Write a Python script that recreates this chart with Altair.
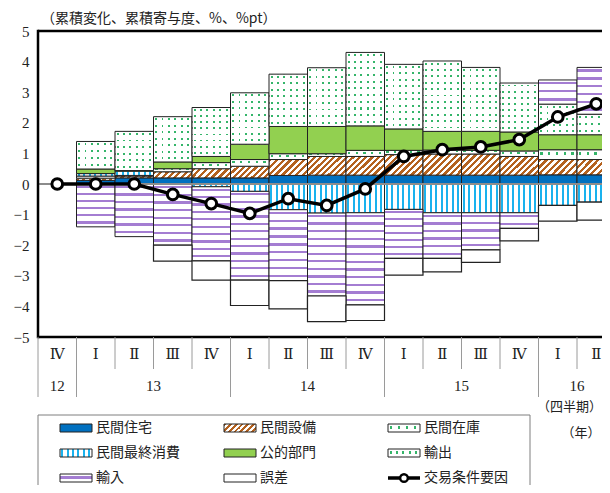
import altair as alt
import pandas as pd

# ---------------- data ----------------
periods = ["12-Ⅳ", "13-Ⅰ", "13-Ⅱ", "13-Ⅲ", "13-Ⅳ", "14-Ⅰ", "14-Ⅱ", "14-Ⅲ", "14-Ⅳ",
           "15-Ⅰ", "15-Ⅱ", "15-Ⅲ", "15-Ⅳ", "16-Ⅰ", "16-Ⅱ"]
quarters = ["Ⅳ", "Ⅰ", "Ⅱ", "Ⅲ", "Ⅳ", "Ⅰ", "Ⅱ", "Ⅲ", "Ⅳ", "Ⅰ", "Ⅱ", "Ⅲ", "Ⅳ", "Ⅰ", "Ⅱ"]
years = ["12", "13", "13", "13", "13", "14", "14", "14", "14", "15", "15", "15", "15", "16", "16"]

series_names = ["民間住宅", "民間設備", "民間在庫", "民間最終消費", "公的部門", "輸出", "輸入", "誤差"]
housing     = [0, 0.12, 0.20, 0.20, 0.20, 0.20, 0.28, 0.29, 0.29, 0.29, 0.29, 0.29, 0.29, 0.30, 0.30]
equipment   = [0, 0.07, 0.06, 0.20, 0.30, 0.38, 0.52, 0.61, 0.61, 0.67, 0.69, 0.69, 0.61, 0.50, 0.50]
inventory   = [0, 0.07, 0.02, 0.10, 0.20, 0.22, 0.19, 0.09, 0.20, 0.14, 0.13, 0.12, 0.18, 0.32, 0.32]
consumption = [0, 0.08, 0.14, 0.00, -0.09, -0.24, -0.84, -0.95, -0.94, -0.83, -0.94, -0.94, -0.94, -0.70, -0.59]
public      = [0, 0.15, 0.02, 0.22, 0.20, 0.50, 0.89, 0.89, 0.80, 0.70, 0.61, 0.62, 0.62, 0.49, 0.49]
exports     = [0, 0.90, 1.28, 1.48, 1.60, 1.68, 1.71, 1.92, 2.40, 2.11, 2.30, 2.09, 1.60, 1.00, 0.67]
imports     = [0, -1.40, -1.72, -2.00, -2.42, -2.90, -2.32, -2.71, -3.01, -1.60, -1.49, -1.21, -0.51, 0.79, 1.53]
errors      = [0, 0.00, 0.00, -0.52, -0.63, -0.83, -0.92, -0.84, -0.51, -0.55, -0.44, -0.41, -0.41, -0.51, -0.59]
terms_name = "交易条件要因"
terms       = [0, 0.00, 0.00, -0.34, -0.64, -0.96, -0.48, -0.70, -0.16, 0.90, 1.12, 1.21, 1.45, 2.19, 2.62]

title_text = "（累積変化、累積寄与度、%、%pt）"
unit_q = "（四半期）"
unit_y = "（年）"

series_values = [housing, equipment, inventory, consumption, public, exports, imports, errors]

rows = []
for order, (name, vals) in enumerate(zip(series_names, series_values)):
    for i, v in enumerate(vals):
        rows.append({"series": name, "order": order, "idx": i, "period": periods[i], "value": v})
bars_df = pd.DataFrame(rows)
line_df = pd.DataFrame({"idx": list(range(len(periods))), "period": periods, "value": terms})
axis_df = pd.DataFrame({"idx": list(range(len(periods))), "quarter": quarters, "year": years})

# ---------------- layout / styles ----------------
CW = 38.5                 # px per quarter
W, H = 564, 306           # plot area (right side cut like the original)
PX = H / 10.0             # px per 1 %pt
JP = "Noto Sans CJK JP"
SERIF = "Liberation Serif, DejaVu Serif, Noto Sans CJK JP"
TXT = "#222222"
EDGE = "#222222"
CLEAR = "rgba(255,255,255,0)"


def band_grad(n, color, bg, frac, x2, y2, shift=0.25):
    stops = [{"offset": 0, "color": bg}]
    for k in range(n):
        a = (k + shift) / n
        b = a + frac / n
        stops += [{"offset": a, "color": bg}, {"offset": a, "color": color},
                  {"offset": b, "color": color}, {"offset": b, "color": bg}]
    stops.append({"offset": 1, "color": bg})
    return {"gradient": "linear", "x1": 0, "y1": 0, "x2": x2, "y2": y2, "stops": stops}


def hatch(w, h, color="#b4621f", period=6.7):
    h = max(h, 1.0)
    k = (w + h) / (w * w + h * h)
    n = max(1, round((w + h) / period))
    return band_grad(n, color, "#ffffff", 0.5, k * w, k * h, shift=0.0)


def rows_grad(n, color, bg, frac):
    return band_grad(n, color, bg, frac, 0, 1)


def cols_grad(n, color, bg, frac):
    return band_grad(n, color, bg, frac, 1, 0)


HEXPR = f"abs(datum.y1 - datum.y0) * {PX}"


def cond_rows(period, color, bg, frac, nmax):
    key = f"max(1, round({HEXPR} / {period}))"
    conds = [{"test": f"{key} == {n}", "value": rows_grad(n, color, bg, frac)} for n in range(1, nmax)]
    return {"condition": conds, "value": rows_grad(nmax, color, bg, frac)}


def cond_hatch(hmax=26):
    key = f"max(1, round({HEXPR}))"
    conds = [{"test": f"{key} == {h}", "value": hatch(CW, h)} for h in range(1, hmax)]
    return {"condition": conds, "value": hatch(CW, hmax)}


PURPLE = "#a47dd2"
GREEN_DOT = "#35b56a"
BLUE_STRIPE = "#1ab2ee"

xscale = alt.Scale(domain=[-0.5, -0.5 + W / CW], nice=False, zero=False)
yscale = alt.Scale(domain=[-5, 5], nice=False, zero=False)
yaxis = alt.Axis(values=list(range(-5, 6)), ticks=False, domain=False, grid=False,
                 labelFont=SERIF, labelFontSize=15, labelColor=TXT, labelPadding=9,
                 labelFlush=False, labelOverlap=False, title=None)

base = (alt.Chart(bars_df)
        .transform_filter("datum.value != 0")
        .transform_stack(stack="value", groupby=["idx"], sort=[alt.SortField("order", "ascending")],
                         as_=["y0", "y1"])
        .transform_calculate(x0="datum.idx - 0.5", x1="datum.idx + 0.5"))

enc = dict(x=alt.X("x0:Q", scale=xscale, axis=None), x2="x1:Q",
           y=alt.Y("y0:Q", scale=yscale, axis=yaxis), y2="y1:Q")


def seg(name):
    return base.transform_filter(alt.datum.series == name)


layers = []
layers.append(seg("民間住宅").mark_rect(clip=True, fill="#0070c0", stroke=EDGE, strokeWidth=1).encode(**enc))
layers.append(seg("民間設備").mark_rect(clip=True, stroke=EDGE, strokeWidth=1).encode(
    fill=cond_hatch(), **enc))
layers.append(seg("民間在庫").mark_rect(clip=True, fill=cols_grad(5, GREEN_DOT, "#ffffff", 0.3)).encode(**enc))
layers.append(seg("民間在庫").mark_rect(clip=True, stroke=EDGE, strokeWidth=1).encode(
    fill=cond_rows(7.0, CLEAR, "#ffffff", 0.3, 12), **enc))
layers.append(seg("民間最終消費").mark_rect(clip=True, fill=cols_grad(7, BLUE_STRIPE, "#ffffff", 0.35),
                                        stroke=EDGE, strokeWidth=1).encode(**enc))
layers.append(seg("公的部門").mark_rect(clip=True, fill="#92d050", stroke=EDGE, strokeWidth=1).encode(**enc))
layers.append(seg("輸出").mark_rect(clip=True, fill=cols_grad(6, GREEN_DOT, "#ffffff", 0.3)).encode(**enc))
layers.append(seg("輸出").mark_rect(clip=True, stroke=EDGE, strokeWidth=1).encode(
    fill=cond_rows(6.5, CLEAR, "#ffffff", 0.3, 14), **enc))
layers.append(seg("輸入").mark_rect(clip=True, stroke=EDGE, strokeWidth=1).encode(
    fill=cond_rows(7.5, PURPLE, "#ffffff", 0.3, 14), **enc))
layers.append(seg("誤差").mark_rect(clip=True, fill="#ffffff", stroke=EDGE, strokeWidth=1.2).encode(**enc))

zero_line = alt.Chart(pd.DataFrame({"z": [0]})).mark_rule(color="#8c8c8c", strokeWidth=2).encode(
    y=alt.Y("z:Q", scale=yscale, axis=yaxis))

line = alt.Chart(line_df).mark_line(color="black", strokeWidth=3.5).encode(
    x=alt.X("idx:Q", scale=xscale, axis=None), y=alt.Y("value:Q", scale=yscale, axis=yaxis))
pts = alt.Chart(line_df).mark_point(shape="circle", filled=True, fill="white", stroke="black",
                                    strokeWidth=3, size=115, opacity=1).encode(
    x=alt.X("idx:Q", scale=xscale, axis=None), y=alt.Y("value:Q", scale=yscale, axis=yaxis))

one = pd.DataFrame({"a": [0]})
frame = [
    alt.Chart(one).mark_rule(color="black", strokeWidth=2.5).encode(
        x=alt.value(0), x2=alt.value(W), y=alt.value(0)),
    alt.Chart(one).mark_rule(color="black", strokeWidth=2.5).encode(
        x=alt.value(0), x2=alt.value(W), y=alt.value(H)),
    alt.Chart(one).mark_rule(color="black", strokeWidth=2.5).encode(
        x=alt.value(0), y=alt.value(-1.2), y2=alt.value(H + 1.2)),
]

# ---------------- category axis (drawn below the plot) ----------------
axis_base = alt.Chart(axis_df)
q_div = axis_base.transform_calculate(pos="datum.idx - 0.5").transform_filter("datum.idx > 0").mark_rule(
    color="#9a9a9a", strokeWidth=1).encode(
    x=alt.X("pos:Q", scale=xscale, axis=None), y=alt.value(H), y2=alt.value(H + 32))
q_lab = axis_base.mark_text(font=SERIF, fontSize=15, color=TXT, baseline="middle").encode(
    x=alt.X("idx:Q", scale=xscale, axis=None), y=alt.value(H + 17), text="quarter:N")
y_agg = axis_base.transform_aggregate(mid="mean(idx)", first="min(idx)", groupby=["year"])
y_div = y_agg.transform_calculate(pos="datum.first - 0.5").mark_rule(color="#9a9a9a", strokeWidth=1).encode(
    x=alt.X("pos:Q", scale=xscale, axis=None), y=alt.value(H), y2=alt.value(H + 60))
y_lab = y_agg.mark_text(font=SERIF, fontSize=15, color=TXT, baseline="middle").encode(
    x=alt.X("mid:Q", scale=xscale, axis=None), y=alt.value(H + 49), text="year:N")

title_mark = alt.Chart(one).mark_text(text=title_text, font=JP, fontSize=14, color=TXT,
                                      align="left", baseline="middle").encode(
    x=alt.value(3), y=alt.value(-12.5))
unitq_mark = alt.Chart(one).mark_text(text=unit_q, font=JP, fontSize=13, color=TXT,
                                      align="right", baseline="middle").encode(
    x=alt.value(W), y=alt.value(H + 70))
unity_mark = alt.Chart(one).mark_text(text=unit_y, font=JP, fontSize=13, color=TXT,
                                      align="center", baseline="middle").encode(
    x=alt.value(543), y=alt.value(H + 96))

# ---------------- legend ----------------
SW, SH = 32, 8
legend_fill = {
    "民間住宅": ["#0070c0"],
    "民間設備": [hatch(SW, SH, period=6.0)],
    "民間在庫": [cols_grad(4, GREEN_DOT, "#ffffff", 0.3), rows_grad(1, CLEAR, "#ffffff", 0.35)],
    "民間最終消費": [cols_grad(6, BLUE_STRIPE, "#ffffff", 0.35)],
    "公的部門": ["#92d050"],
    "輸出": [cols_grad(5, GREEN_DOT, "#ffffff", 0.3), rows_grad(1, CLEAR, "#ffffff", 0.35)],
    "輸入": [rows_grad(1, PURPLE, "#ffffff", 0.35)],
    "誤差": ["#ffffff"],
}
legend_layers = []
box = alt.Chart(one).mark_rect(fill="white", stroke="#7f7f7f", strokeWidth=1).encode(
    x=alt.value(0), x2=alt.value(492), y=alt.value(H + 78), y2=alt.value(H + 175))
legend_layers.append(box)
legend_names = series_names + [terms_name]
for k, name in enumerate(legend_names):
    col, row = k % 3, k // 3
    sx = 22 + 164 * col
    sy = H + 91 + 25 * row
    if name == terms_name:
        legend_layers.append(alt.Chart(one).mark_rule(color="black", strokeWidth=3.5).encode(
            x=alt.value(sx), x2=alt.value(sx + SW), y=alt.value(sy)))
        legend_layers.append(alt.Chart(one).mark_point(shape="circle", filled=True, fill="white",
                                                       stroke="black", strokeWidth=2.5, size=60,
                                                       opacity=1).encode(
            x=alt.value(sx + 16), y=alt.value(sy)))
    else:
        fl = legend_fill[name]
        for j, f in enumerate(fl):
            mk = dict(fill=f)
            if j == len(fl) - 1:
                mk.update(stroke=EDGE, strokeWidth=1)
            legend_layers.append(alt.Chart(one).mark_rect(**mk).encode(
                x=alt.value(sx), x2=alt.value(sx + SW), y=alt.value(sy - SH / 2), y2=alt.value(sy + SH / 2)))
    legend_layers.append(alt.Chart(one).mark_text(text=name, font=JP, fontSize=14, color=TXT,
                                                  align="left", baseline="middle").encode(
        x=alt.value(sx + 36), y=alt.value(sy)))

chart = alt.layer(*layers, zero_line, line, pts, *frame, q_div, y_div, q_lab, y_lab,
                  title_mark, unitq_mark, unity_mark, *legend_layers).properties(
    width=W, height=H,
    autosize=alt.AutoSizeParams(type="none"),
    padding={"left": 30, "top": 23, "right": 0, "bottom": 148},
).configure_view(stroke=None).configure(background="white")

chart.save("out.html", embed_options={"renderer": "svg", "actions": False})
